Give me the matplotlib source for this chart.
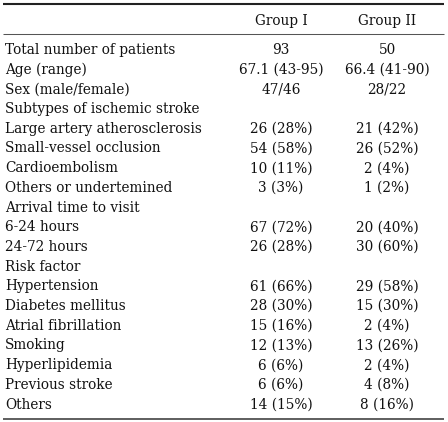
import matplotlib
matplotlib.use("Agg")
import matplotlib.pyplot as plt

columns = ["Group I", "Group II"]
row_labels = [
    "Total number of patients", "Age (range)", "Sex (male/female)",
    "Subtypes of ischemic stroke", "Large artery atherosclerosis",
    "Small-vessel occlusion", "Cardioembolism", "Others or undertemined",
    "Arrival time to visit", "6-24 hours", "24-72 hours", "Risk factor",
    "Hypertension", "Diabetes mellitus", "Atrial fibrillation", "Smoking",
    "Hyperlipidemia", "Previous stroke", "Others",
]
group1 = ["93", "67.1 (43-95)", "47/46", "", "26 (28%)", "54 (58%)",
          "10 (11%)", "3 (3%)", "", "67 (72%)", "26 (28%)", "",
          "61 (66%)", "28 (30%)", "15 (16%)", "12 (13%)", "6 (6%)",
          "6 (6%)", "14 (15%)"]
group2 = ["50", "66.4 (41-90)", "28/22", "", "21 (42%)", "26 (52%)",
          "2 (4%)", "1 (2%)", "", "20 (40%)", "30 (60%)", "",
          "29 (58%)", "15 (30%)", "2 (4%)", "13 (26%)", "2 (4%)",
          "4 (8%)", "8 (16%)"]

W, H = 448, 422
fig = plt.figure(figsize=(W / 100, H / 100), dpi=100)
ax = fig.add_axes([0, 0, 1, 1])
ax.set_xlim(0, W)
ax.set_ylim(H, 0)
ax.axis("off")

font = dict(family="DejaVu Serif", fontsize=9.8, color="#111111")
x_label = 5
x_cols = [281, 387]
y_header = 21
y0 = 50
dy = 19.7

for xc, name in zip(x_cols, columns):
    ax.text(xc, y_header, name, ha="center", va="center", **font)

for i, (lab, a, b) in enumerate(zip(row_labels, group1, group2)):
    y = y0 + i * dy
    ax.text(x_label, y, lab, ha="left", va="center", **font)
    ax.text(x_cols[0], y, a, ha="center", va="center", **font)
    ax.text(x_cols[1], y, b, ha="center", va="center", **font)

ax.plot([3, 444], [4, 4], color="#222222", lw=1.5, solid_capstyle="butt")
ax.plot([3, 444], [34, 34], color="#555555", lw=0.75, solid_capstyle="butt")
ax.plot([3, 444], [419, 419], color="#333333", lw=1.1, solid_capstyle="butt")

fig.savefig("out.png", dpi=100)
